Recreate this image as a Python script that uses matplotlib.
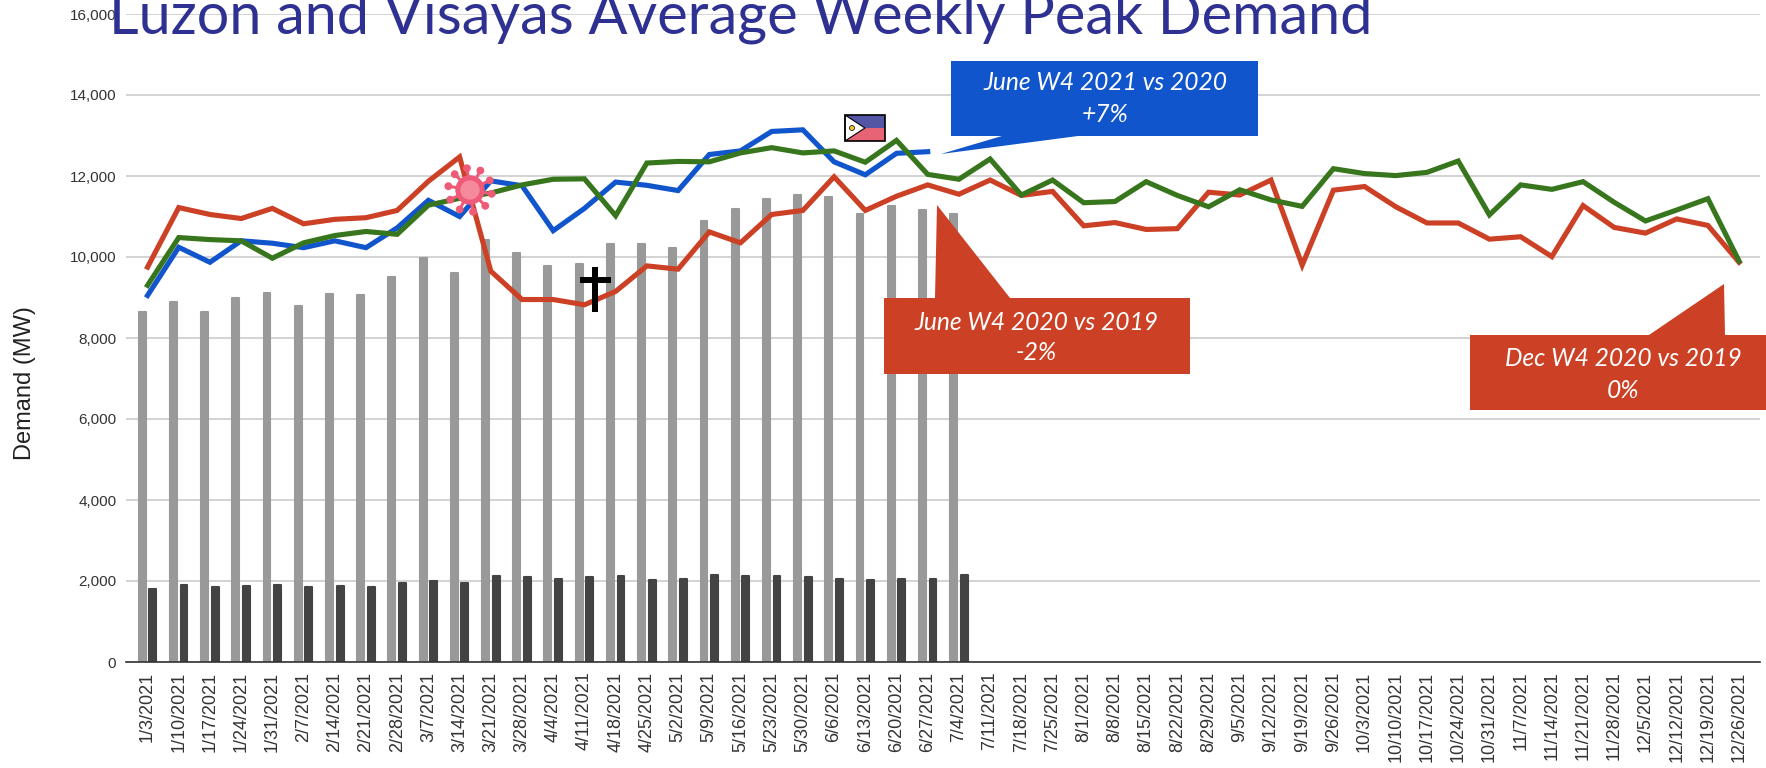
import numpy as np
import matplotlib
matplotlib.use("Agg")
import matplotlib.pyplot as plt
from matplotlib.patches import Polygon, Circle, Rectangle

weeks = ["1/3/2021", "1/10/2021", "1/17/2021", "1/24/2021", "1/31/2021", "2/7/2021", "2/14/2021",
         "2/21/2021", "2/28/2021", "3/7/2021", "3/14/2021", "3/21/2021", "3/28/2021", "4/4/2021",
         "4/11/2021", "4/18/2021", "4/25/2021", "5/2/2021", "5/9/2021", "5/16/2021", "5/23/2021",
         "5/30/2021", "6/6/2021", "6/13/2021", "6/20/2021", "6/27/2021", "7/4/2021", "7/11/2021",
         "7/18/2021", "7/25/2021", "8/1/2021", "8/8/2021", "8/15/2021", "8/22/2021", "8/29/2021",
         "9/5/2021", "9/12/2021", "9/19/2021", "9/26/2021", "10/3/2021", "10/10/2021", "10/17/2021",
         "10/24/2021", "10/31/2021", "11/7/2021", "11/14/2021", "11/21/2021", "11/28/2021",
         "12/5/2021", "12/12/2021", "12/19/2021", "12/26/2021"]

demand_2020 = [9750, 11220, 11050, 10950, 11200, 10820, 10930, 10970, 11150, 11870, 12470, 9650, 8950,
               8950, 8820, 9150, 9780, 9700, 10620, 10350, 11050, 11150, 11980, 11150, 11500, 11780,
               11550, 11900, 11520, 11620, 10770, 10850, 10680, 10700, 11600, 11530, 11900, 9800,
               11650, 11740, 11240, 10840, 10840, 10440, 10500, 10010, 11270, 10730, 10590, 10940,
               10780, 9870]
demand_2019 = [9300, 10480, 10430, 10400, 9970, 10350, 10530, 10630, 10560, 11280, 11450, 11580, 11780,
               11920, 11930, 11020, 12320, 12360, 12350, 12570, 12700, 12570, 12620, 12340, 12880,
               12040, 11920, 12420, 11530, 11900, 11340, 11370, 11860, 11520, 11240, 11660, 11410,
               11250, 12180, 12060, 12010, 12090, 12370, 11040, 11780, 11670, 11860, 11350, 10890,
               11160, 11440, 9900]
demand_2021 = [9050, 10240, 9870, 10400, 10340, 10230, 10400, 10230, 10720, 11400, 11000, 11880, 11760,
               10650, 11200, 11850, 11770, 11640, 12530, 12620, 13100, 13140, 12350, 12030, 12560, 12600]

luzon_bars = [8640, 8900, 8640, 9000, 9120, 8800, 9080, 9060, 9510, 9970, 9610, 10430, 10090, 9770,
              9830, 10320, 10320, 10220, 10890, 11190, 11440, 11540, 11480, 11060, 11260, 11160, 11060]
visayas_bars = [1800, 1910, 1840, 1880, 1910, 1840, 1880, 1840, 1940, 2000, 1940, 2120, 2090, 2060,
                2090, 2120, 2030, 2060, 2160, 2120, 2120, 2090, 2060, 2030, 2060, 2060, 2160]

yticks = [0, 2000, 4000, 6000, 8000, 10000, 12000, 14000, 16000]

RED = "#CC4125"
GREEN = "#38761D"
BLUE = "#1155CC"

W, H = 1766, 768
fig = plt.figure(figsize=(W / 100, H / 100), dpi=100)
ax = fig.add_axes([126 / W, 1 - 662 / H, (1760 - 126) / W, (662 - 14) / H])

x = np.arange(len(weeks))
bar_x = np.arange(len(luzon_bars))
ax.bar(bar_x - 0.17, luzon_bars, width=0.22, color="#999999", edgecolor="#999999", linewidth=1.5,
       joinstyle="round", zorder=2)
ax.bar(bar_x + 0.17, visayas_bars, width=0.22, color="#434343", edgecolor="#434343", linewidth=1.5,
       joinstyle="round", zorder=2)
ax.plot(x, demand_2020, color=RED, lw=3.7, zorder=3, solid_joinstyle="miter")
ax.plot(np.arange(len(demand_2021)), demand_2021, color=BLUE, lw=3.7, zorder=4, solid_joinstyle="miter")
ax.plot(x, demand_2019, color=GREEN, lw=3.7, zorder=5, solid_joinstyle="miter")

ax.set_xlim(-0.69, 51.67)
ax.set_ylim(0, 16000)
ax.set_yticks(yticks)
ax.set_yticklabels([f"{v:,}" for v in yticks], fontsize=11, color="#333333", family="Liberation Sans")
ax.set_xticks(x)
ax.set_xticklabels(weeks, rotation=90, fontsize=13, color="#333333", family="Liberation Sans")
ax.tick_params(axis="both", length=0)
ax.tick_params(axis="x", pad=7)
ax.tick_params(axis="y", pad=7)
ax.grid(axis="y", color="#CCCCCC", lw=1.2, zorder=1)
ax.set_axisbelow(True)
for s in ["top", "right", "left"]:
    ax.spines[s].set_visible(False)
ax.spines["bottom"].set_color("#333333")
ax.spines["bottom"].set_linewidth(1.2)
ax.patch.set_alpha(0)
fig.text(25 / W, 1 - 383 / H, "Demand (MW)", rotation=90, fontsize=17, color="#222222",
         family="Liberation Sans", ha="center", va="center")

# overlay in picture pixels for everything pasted on top of the chart
ov = fig.add_axes([0, 0, 1, 1], zorder=10)
ov.set_xlim(0, W)
ov.set_ylim(H, 0)
ov.axis("off")
ov.patch.set_alpha(0)

ov.text(109, 33.7, "Luzon and Visayas Average Weekly Peak Demand", fontsize=41.5, color="#2E3192",
        family="Lato", ha="left", va="baseline", clip_on=False)

# callouts
ov.add_patch(Polygon([(951, 61), (1258, 61), (1258, 136), (1078, 136), (941, 154), (1002, 136), (951, 136)],
                     color=BLUE, lw=0))
ov.add_patch(Polygon([(884, 298), (935, 298), (937, 205), (1010, 298), (1190, 298), (1190, 374), (884, 374)],
                     color=RED, lw=0))
ov.add_patch(Polygon([(1470, 335), (1649, 335), (1724, 284), (1725, 335), (1766, 335), (1766, 410), (1470, 410)],
                     color=RED, lw=0))
notes = [(1105, 83, 115, "June W4 2021 vs 2020", "+7%"),
         (1036, 322, 353, "June W4 2020 vs 2019", "-2%"),
         (1623, 358, 390, "Dec W4 2020 vs 2019", "0%")]
for nx, y1, y2, line1, line2 in notes:
    ov.text(nx, y1, line1, color="white", fontsize=17.7, style="italic", family="Lato", ha="center", va="center")
    ov.text(nx, y2, line2, color="white", fontsize=17.7, style="italic", family="Lato", ha="center", va="center")

# virus icon
for a in np.arange(0, 360, 36):
    r = np.radians(a + 10)
    ov.plot([470, 470 + 20 * np.cos(r)], [190, 190 + 20 * np.sin(r)], color="#EE5A78", lw=2.2, zorder=5)
    ov.add_patch(Circle((470 + 22 * np.cos(r), 190 + 22 * np.sin(r)), 3.2, color="#EE5A78", zorder=5))
ov.add_patch(Circle((470, 190), 14, color="#EE5A78", zorder=6))
ov.add_patch(Circle((470, 190), 9, color="#F58A9C", zorder=7))

# cross
ov.add_patch(Rectangle((592, 267), 6, 45, color="black", lw=0))
ov.add_patch(Rectangle((580, 277), 31, 5.5, color="black", lw=0))

# flag
ov.add_patch(Rectangle((845, 115), 40, 13, facecolor="#5256A4", lw=0))
ov.add_patch(Rectangle((845, 128), 40, 13, facecolor="#E76475", lw=0))
ov.add_patch(Polygon([(845, 115), (865, 128), (845, 141)], facecolor="white", edgecolor="black", lw=0.8))
ov.add_patch(Circle((852, 128), 2.5, facecolor="#F2C230", edgecolor="black", lw=0.5))
ov.add_patch(Rectangle((845, 115), 40, 26, fill=False, edgecolor="black", lw=1.2))

fig.savefig("out.png", dpi=100)
